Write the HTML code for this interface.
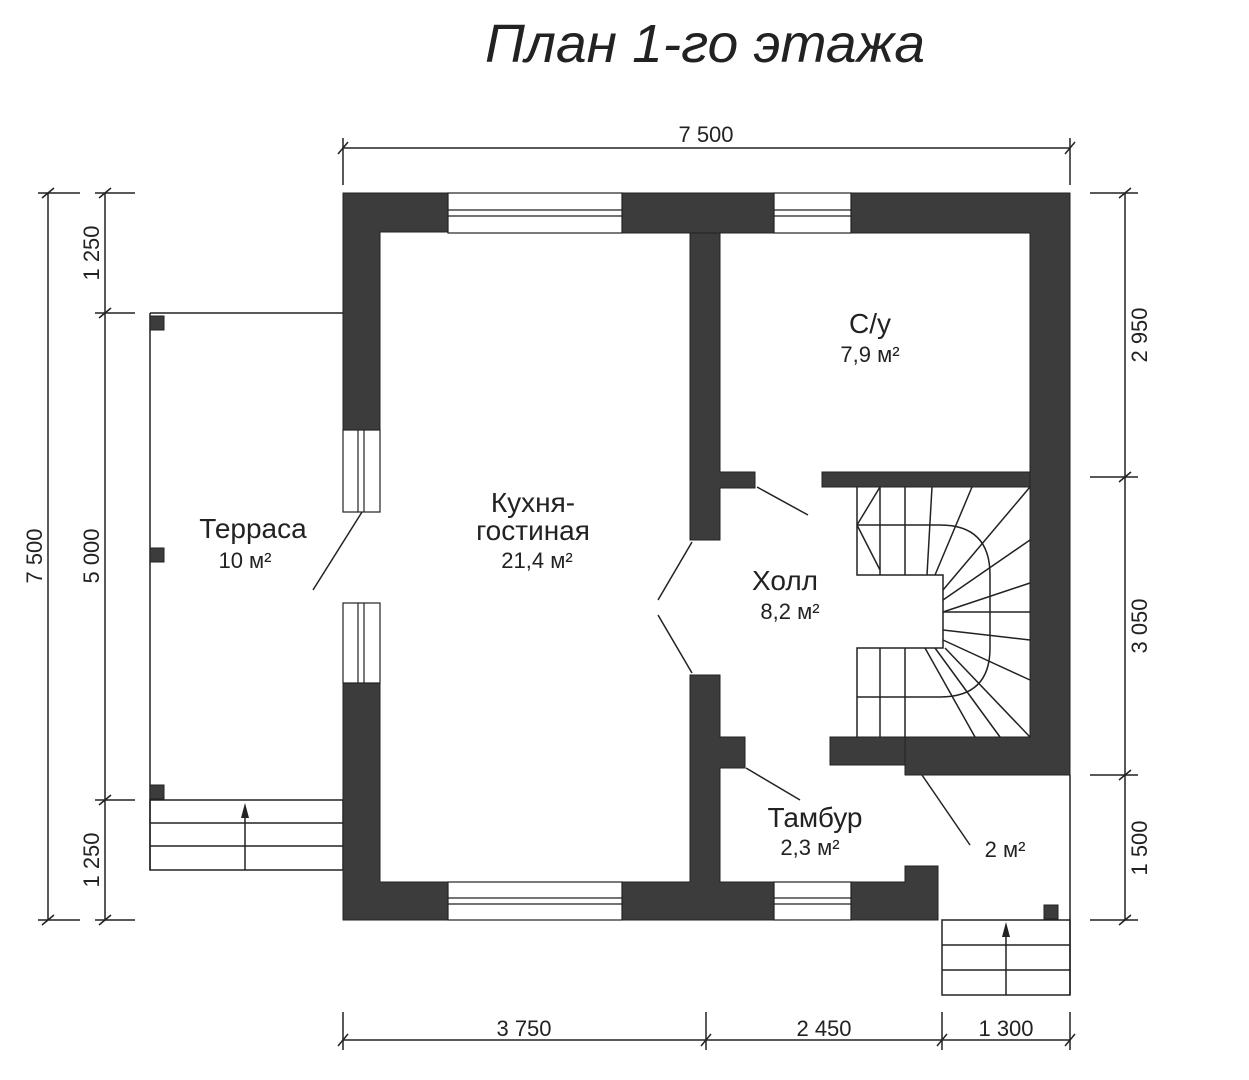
<!DOCTYPE html>
<html><head><meta charset="utf-8"><style>
html,body{margin:0;padding:0;background:#fff;}
svg{display:block;}
text{font-family:"Liberation Sans","DejaVu Sans",sans-serif;fill:#222;}
</style></head><body>
<svg width="1249" height="1080" viewBox="0 0 1249 1080" xmlns="http://www.w3.org/2000/svg">
<text x="705" y="62" font-size="54" font-style="italic" text-anchor="middle" textLength="440" lengthAdjust="spacingAndGlyphs">План 1-го этажа</text>

<g stroke="#222" stroke-width="1.5" fill="none">
<line x1="343" y1="148" x2="1070" y2="148"/>
<line x1="343" y1="138" x2="343" y2="185"/><line x1="1070" y1="138" x2="1070" y2="185"/>
<line x1="338" y1="154" x2="348" y2="142"/><line x1="1065" y1="154" x2="1075" y2="142"/>
<line x1="48" y1="193" x2="48" y2="920"/>
<line x1="38" y1="193" x2="80" y2="193"/><line x1="38" y1="920" x2="80" y2="920"/>
<line x1="42" y1="198" x2="54" y2="188"/><line x1="42" y1="925" x2="54" y2="915"/>
<line x1="105" y1="193" x2="105" y2="920"/>
<line x1="95" y1="193" x2="135" y2="193"/><line x1="95" y1="313" x2="135" y2="313"/><line x1="95" y1="800" x2="135" y2="800"/><line x1="95" y1="920" x2="135" y2="920"/>
<line x1="99" y1="198" x2="111" y2="188"/><line x1="99" y1="318" x2="111" y2="308"/><line x1="99" y1="805" x2="111" y2="795"/><line x1="99" y1="925" x2="111" y2="915"/>
<line x1="1125" y1="193" x2="1125" y2="920"/>
<line x1="1090" y1="193" x2="1138" y2="193"/><line x1="1090" y1="477" x2="1138" y2="477"/><line x1="1090" y1="775" x2="1138" y2="775"/><line x1="1090" y1="920" x2="1138" y2="920"/>
<line x1="1119" y1="198" x2="1131" y2="188"/><line x1="1119" y1="482" x2="1131" y2="472"/><line x1="1119" y1="780" x2="1131" y2="770"/><line x1="1119" y1="925" x2="1131" y2="915"/>
<line x1="343" y1="1040" x2="1070" y2="1040"/>
<line x1="343" y1="1012" x2="343" y2="1050"/><line x1="706" y1="1012" x2="706" y2="1050"/><line x1="942" y1="1012" x2="942" y2="1050"/><line x1="1070" y1="1012" x2="1070" y2="1050"/>
<line x1="338" y1="1046" x2="348" y2="1034"/><line x1="701" y1="1046" x2="711" y2="1034"/><line x1="937" y1="1046" x2="947" y2="1034"/><line x1="1065" y1="1046" x2="1075" y2="1034"/>
</g>
<g font-size="22">
<text x="706" y="142" text-anchor="middle">7 500</text>
<text x="524" y="1036" text-anchor="middle">3 750</text>
<text x="824" y="1036" text-anchor="middle">2 450</text>
<text x="1006" y="1036" text-anchor="middle">1 300</text>
<text transform="translate(42,556) rotate(-90)" text-anchor="middle">7 500</text>
<text transform="translate(99,253) rotate(-90)" text-anchor="middle">1 250</text>
<text transform="translate(99,556) rotate(-90)" text-anchor="middle">5 000</text>
<text transform="translate(99,860) rotate(-90)" text-anchor="middle">1 250</text>
<text transform="translate(1147,335) rotate(-90)" text-anchor="middle">2 950</text>
<text transform="translate(1147,626) rotate(-90)" text-anchor="middle">3 050</text>
<text transform="translate(1147,848) rotate(-90)" text-anchor="middle">1 500</text>
</g>

<g stroke="#222" stroke-width="1.5" fill="none">
<line x1="150" y1="313" x2="343" y2="313"/>
<line x1="150" y1="313" x2="150" y2="870"/>
<rect x="150" y="800" width="193" height="70"/>
<line x1="150" y1="823" x2="343" y2="823"/><line x1="150" y1="846" x2="343" y2="846"/>
<line x1="245" y1="870" x2="245" y2="812"/>
<line x1="1070" y1="775" x2="1070" y2="995"/>
<rect x="942" y="920" width="128" height="75"/>
<line x1="942" y1="945" x2="1070" y2="945"/><line x1="942" y1="970" x2="1070" y2="970"/>
<line x1="1006" y1="995" x2="1006" y2="932"/>
</g>
<polygon points="245,803 241,818 249,818" fill="#222"/>
<polygon points="1006,922 1002,937 1010,937" fill="#222"/>
<g fill="#3c3c3c" stroke="#222" stroke-width="1">
<rect x="150" y="316" width="14" height="14"/>
<rect x="150" y="548" width="14" height="14"/>
<rect x="150" y="785" width="14" height="14"/>
<rect x="1044" y="905" width="14" height="14"/>
</g>

<g fill="#3c3c3c" stroke="#222" stroke-width="1">
<path d="M343,193 H448 V232 H380 V430 H343 Z"/>
<rect x="622" y="193" width="152" height="40"/>
<path d="M851,193 H1070 V775 H905 V737 H1030 V233 H851 Z"/>
<rect x="830" y="737" width="75" height="28"/>
<path d="M343,683 H380 V882 H448 V920 H343 Z"/>
<path d="M690,675 H720 V737 H745 V768 H720 V882 H774 V920 H622 V882 H690 Z"/>
<path d="M851,882 H905 V866 H938 V920 H851 Z"/>
<path d="M690,233 H720 V472 H755 V488 H720 V540 H690 Z"/>
<rect x="822" y="472" width="208" height="15"/>
</g>

<g stroke="#222" stroke-width="1.2" fill="#fff">
<rect x="448" y="193" width="174" height="40"/>
<line x1="448" y1="210" x2="622" y2="210"/><line x1="448" y1="216" x2="622" y2="216"/>
<rect x="774" y="193" width="77" height="40"/>
<line x1="774" y1="210" x2="851" y2="210"/><line x1="774" y1="216" x2="851" y2="216"/>
<rect x="448" y="882" width="174" height="38"/>
<line x1="448" y1="898" x2="622" y2="898"/><line x1="448" y1="904" x2="622" y2="904"/>
<rect x="774" y="882" width="77" height="38"/>
<line x1="774" y1="898" x2="851" y2="898"/><line x1="774" y1="904" x2="851" y2="904"/>
<rect x="343" y="430" width="37" height="82"/>
<line x1="358" y1="430" x2="358" y2="512"/><line x1="364" y1="430" x2="364" y2="512"/>
<rect x="343" y="603" width="37" height="80"/>
<line x1="358" y1="603" x2="358" y2="683"/><line x1="364" y1="603" x2="364" y2="683"/>
</g>

<g stroke="#222" stroke-width="1.5" fill="none">
<line x1="362" y1="512" x2="313" y2="590"/>
<line x1="692" y1="542" x2="658" y2="600"/>
<line x1="658" y1="615" x2="692" y2="673"/>
<line x1="757" y1="487" x2="808" y2="515"/>
<line x1="746" y1="768" x2="800" y2="800"/>
<line x1="922" y1="775" x2="970" y2="845"/>
</g>

<g stroke="#222" stroke-width="1.5" fill="none">
<path d="M857,487 V575 H943 V648 H857 V737"/>
<path d="M857,525 H940 Q990,525 990,575 V648 Q990,697 940,697 H857"/>
<line x1="880" y1="487" x2="880" y2="575"/><line x1="905" y1="487" x2="905" y2="575"/>
<line x1="932" y1="487" x2="927" y2="575"/>
<line x1="857" y1="525" x2="880" y2="487"/><line x1="857" y1="525" x2="880" y2="570"/>
<line x1="972" y1="487" x2="935" y2="575"/>
<line x1="1030" y1="487" x2="943" y2="590"/>
<line x1="1030" y1="540" x2="943" y2="600"/>
<line x1="1030" y1="583" x2="943" y2="612"/>
<line x1="1030" y1="612" x2="943" y2="612"/>
<line x1="1030" y1="640" x2="943" y2="630"/>
<line x1="1030" y1="680" x2="943" y2="640"/>
<line x1="1030" y1="737" x2="945" y2="648"/>
<line x1="1000" y1="737" x2="935" y2="648"/>
<line x1="975" y1="737" x2="925" y2="648"/>
<line x1="880" y1="648" x2="880" y2="737"/><line x1="905" y1="648" x2="905" y2="737"/>
</g>

<g text-anchor="middle">
<text x="253" y="538" font-size="28">Терраса</text>
<text x="245" y="568" font-size="22">10 м²</text>
<text x="533" y="512" font-size="28">Кухня-</text>
<text x="533" y="540" font-size="28">гостиная</text>
<text x="537" y="568" font-size="22">21,4 м²</text>
<text x="870" y="333" font-size="28">С/у</text>
<text x="870" y="362" font-size="22">7,9 м²</text>
<text x="785" y="590" font-size="28">Холл</text>
<text x="790" y="619" font-size="22">8,2 м²</text>
<text x="815" y="827" font-size="28">Тамбур</text>
<text x="810" y="855" font-size="22">2,3 м²</text>
<text x="1005" y="857" font-size="22">2 м²</text>
</g>
</svg>
</body></html>
